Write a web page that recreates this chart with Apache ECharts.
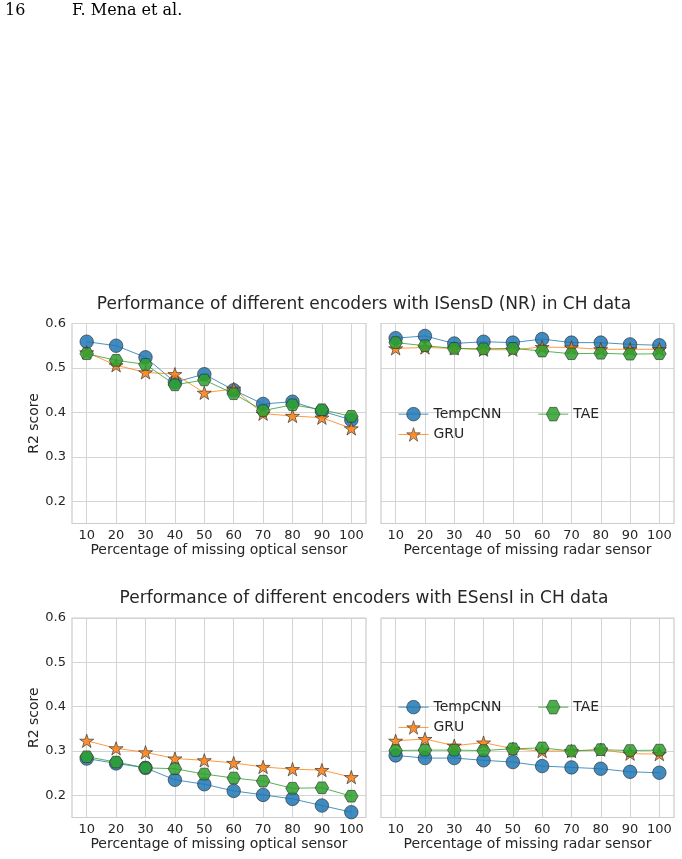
<!DOCTYPE html>
<html>
<head>
<meta charset="utf-8">
<script src="https://cdn.jsdelivr.net/npm/echarts@6/dist/echarts.min.js"></script>
<style>
  html, body { margin: 0; padding: 0; background: #fff; }
  #main { width: 682px; height: 859px; }
</style>
</head>
<body>
<div id="main"></div>
<script>
// missing-sensor percentages (x axis)
const percentages = [10, 20, 30, 40, 50, 60, 70, 80, 90, 100];
const yTicks = [0.2, 0.3, 0.4, 0.5, 0.6];
const encoders = ['TempCNN', 'GRU', 'TAE'];

// ISensD (NR) - missing optical
const isensdOpticalTempCNN = [0.559, 0.550, 0.524, 0.468, 0.486, 0.450, 0.419, 0.424, 0.403, 0.383];
const isensdOpticalGRU     = [0.535, 0.506, 0.490, 0.486, 0.444, 0.453, 0.397, 0.392, 0.388, 0.364];
const isensdOpticalTAE     = [0.532, 0.517, 0.508, 0.462, 0.473, 0.442, 0.404, 0.417, 0.406, 0.391];
// ISensD (NR) - missing radar
const isensdRadarTempCNN = [0.567, 0.572, 0.555, 0.559, 0.557, 0.565, 0.557, 0.557, 0.553, 0.551];
const isensdRadarGRU     = [0.544, 0.546, 0.544, 0.541, 0.541, 0.547, 0.546, 0.542, 0.542, 0.542];
const isensdRadarTAE     = [0.557, 0.550, 0.544, 0.543, 0.544, 0.538, 0.532, 0.533, 0.531, 0.532];
// ESensI - missing optical
const esensiOpticalTempCNN = [0.283, 0.272, 0.262, 0.235, 0.225, 0.210, 0.201, 0.192, 0.177, 0.162];
const esensiOpticalGRU     = [0.323, 0.306, 0.297, 0.283, 0.279, 0.273, 0.264, 0.259, 0.257, 0.241];
const esensiOpticalTAE     = [0.287, 0.275, 0.262, 0.260, 0.248, 0.239, 0.232, 0.216, 0.217, 0.198];
// ESensI - missing radar
const esensiRadarTempCNN = [0.290, 0.284, 0.284, 0.279, 0.275, 0.266, 0.263, 0.260, 0.253, 0.251];
const esensiRadarGRU     = [0.323, 0.327, 0.312, 0.319, 0.305, 0.300, 0.300, 0.303, 0.294, 0.293];
const esensiRadarTAE     = [0.301, 0.302, 0.302, 0.301, 0.305, 0.307, 0.300, 0.303, 0.301, 0.302];

const panels = [
  { data: [isensdOpticalTempCNN, isensdOpticalGRU, isensdOpticalTAE], xName: 'Percentage of missing optical sensor' },
  { data: [isensdRadarTempCNN, isensdRadarGRU, isensdRadarTAE], xName: 'Percentage of missing radar sensor' },
  { data: [esensiOpticalTempCNN, esensiOpticalGRU, esensiOpticalTAE], xName: 'Percentage of missing optical sensor' },
  { data: [esensiRadarTempCNN, esensiRadarGRU, esensiRadarTAE], xName: 'Percentage of missing radar sensor' }
];

const FONT = 'DejaVu Sans';
const TXT = '#262626';
const GRID_C = '#d4d4d4';

const starPath = 'path://M0,-1L0.2245,-0.309L0.951,-0.309L0.363,0.118L0.588,0.809L0,0.382L-0.588,0.809L-0.363,0.118L-0.951,-0.309L-0.2245,-0.309Z';
const hexPath = 'path://M-1,0L-0.5,-0.866L0.5,-0.866L1,0L0.5,0.866L-0.5,0.866Z';

const styles = [
  { color: '#1f77b4', symbol: 'circle', size: 13.5 },
  { color: '#ff7f0e', symbol: starPath, size: 14 },
  { color: '#2ca02c', symbol: hexPath, size: 13.5 }
];

// grid boxes (pixel)
const boxes = [
  { left: 72, top: 323.5, width: 294, height: 200 },
  { left: 381, top: 323.5, width: 293, height: 200 },
  { left: 72, top: 618, width: 294, height: 199.5 },
  { left: 381, top: 618, width: 293, height: 199.5 }
];

const grid = boxes.map(b => ({
  left: b.left, top: b.top, width: b.width, height: b.height,
  show: true, borderColor: '#cccccc', borderWidth: 1.2, backgroundColor: '#fff'
}));

const xAxis = panels.map((p, i) => ({
  type: 'value', gridIndex: i, min: 5, max: 105,
  name: p.xName, nameLocation: 'middle', nameGap: 20,
  nameTextStyle: { fontFamily: FONT, fontSize: 14, color: TXT },
  axisLine: { show: false },
  axisTick: { show: false, customValues: percentages },
  axisLabel: { customValues: percentages, fontFamily: FONT, fontSize: 13, color: TXT, margin: 6 },
  splitLine: { show: true, lineStyle: { color: GRID_C, width: 1 } }
}));

const yAxis = panels.map((p, i) => ({
  type: 'value', gridIndex: i, min: 0.15, max: 0.6,
  name: i % 2 === 0 ? 'R2 score' : '', nameLocation: 'middle', nameGap: 30,
  nameTextStyle: { fontFamily: FONT, fontSize: 14, color: TXT },
  axisLine: { show: false },
  axisTick: { show: false, customValues: yTicks },
  axisLabel: { show: i % 2 === 0, customValues: yTicks, fontFamily: FONT, fontSize: 13, color: TXT, margin: 6,
    formatter: v => v.toFixed(1) },
  splitLine: { show: true, lineStyle: { color: GRID_C, width: 1 } }
}));

const series = [];
panels.forEach((p, i) => {
  p.data.forEach((vals, k) => {
    const s = styles[k];
    series.push({
      name: encoders[k], type: 'line', xAxisIndex: i, yAxisIndex: i,
      data: percentages.map((x, j) => [x, vals[j]]),
      symbol: s.symbol, symbolSize: s.size, symbolKeepAspect: true,
      lineStyle: { color: s.color, width: 1, opacity: 0.8 },
      itemStyle: { color: s.color, opacity: 0.85, borderColor: '#333', borderWidth: 0.8 },
      emphasis: { disabled: true },
      z: 2 + k, animation: false
    });
  });
});

const legendBase = {
  orient: 'vertical', itemWidth: 30, itemHeight: 17, itemGap: 6,
  textStyle: { fontFamily: FONT, fontSize: 14, color: TXT, padding: [0, 0, 0, 0] },
  itemStyle: { borderWidth: 0.7, borderColor: '#333' },
  lineStyle: { width: 1 },
  selectedMode: false
};
const legend = [
  Object.assign({}, legendBase, { data: ['TempCNN', 'GRU'], left: 393, top: 402 }),
  Object.assign({}, legendBase, { data: ['TAE'], left: 532.7, top: 402 }),
  Object.assign({}, legendBase, { data: ['TempCNN', 'GRU'], left: 393, top: 695 }),
  Object.assign({}, legendBase, { data: ['TAE'], left: 532.7, top: 695 })
];

const graphic = [
  { type: 'text', left: 5, top: 3, style: { text: '16', fontFamily: 'DejaVu Serif', fontSize: 16, fill: '#000' } },
  { type: 'text', left: 72, top: 3, style: { text: 'F. Mena et al.', fontFamily: 'DejaVu Serif', fontSize: 16, fill: '#000' } },
  { type: 'text', x: 364, y: 305, style: { text: 'Performance of different encoders with ISensD (NR) in CH data',
      fontFamily: FONT, fontSize: 17, fill: TXT, align: 'center', verticalAlign: 'middle' } },
  { type: 'text', x: 364, y: 599, style: { text: 'Performance of different encoders with ESensI in CH data',
      fontFamily: FONT, fontSize: 17, fill: TXT, align: 'center', verticalAlign: 'middle' } }
];

const chart = echarts.init(document.getElementById('main'), null, { renderer: 'canvas' });
chart.setOption({
  backgroundColor: '#fff',
  animation: false,
  grid, xAxis, yAxis, series, legend, graphic
});
</script>
</body>
</html>
